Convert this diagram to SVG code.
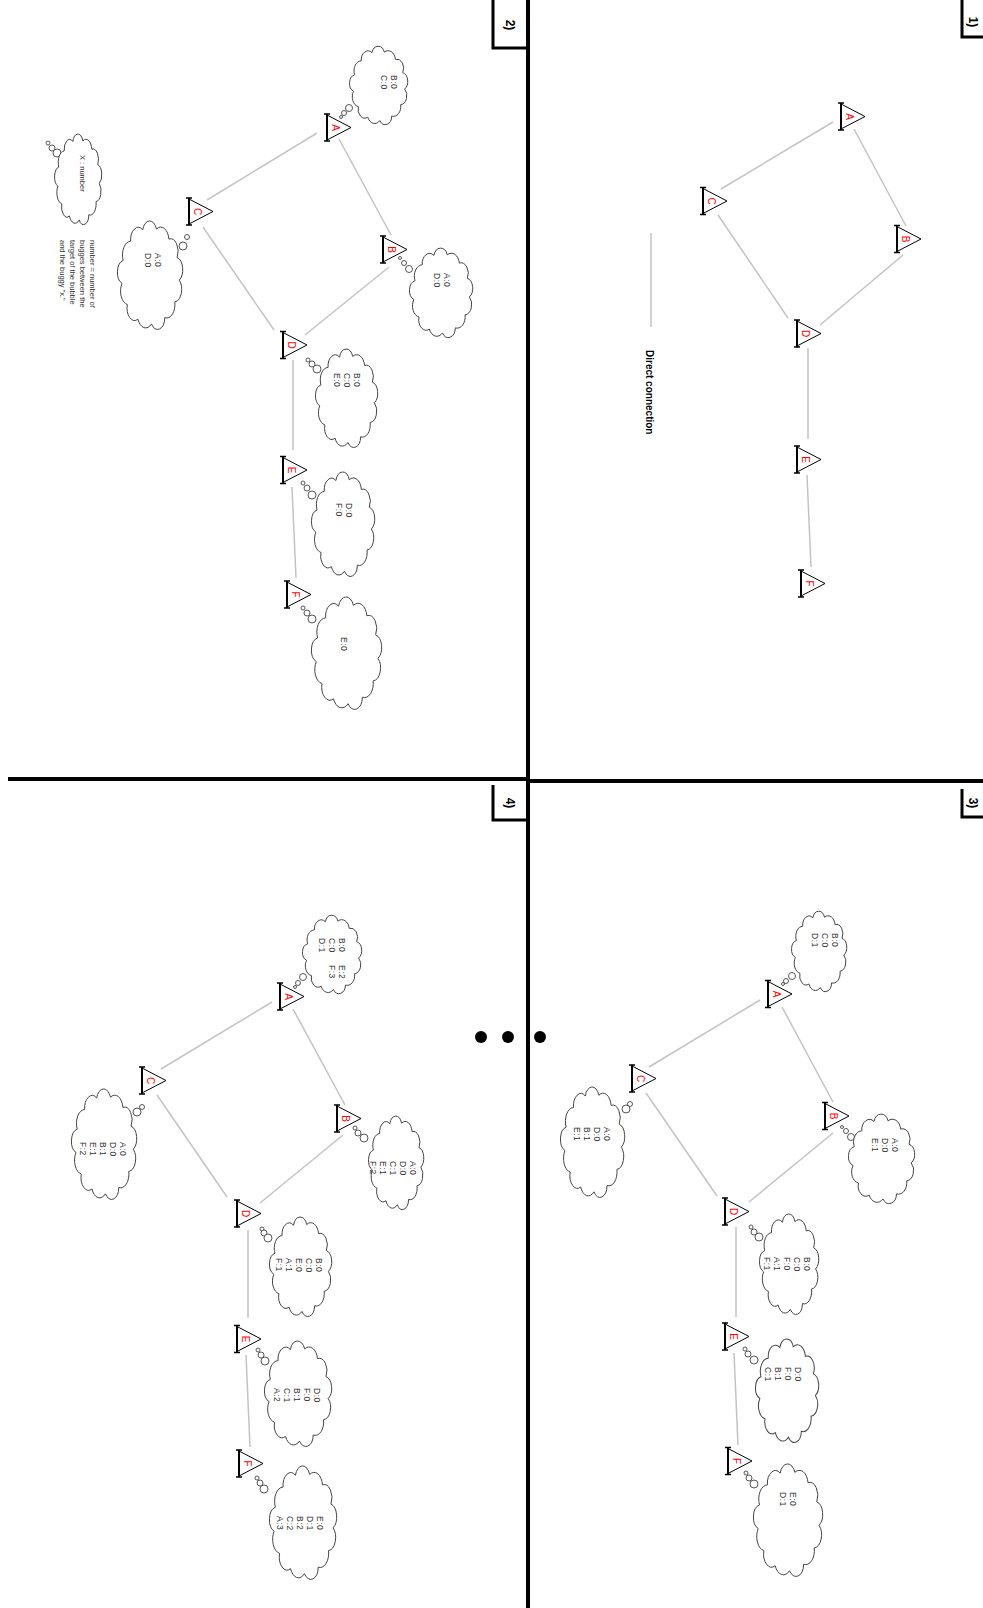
<svg xmlns="http://www.w3.org/2000/svg" xmlns:xlink="http://www.w3.org/1999/xlink" width="983" height="1608" viewBox="0 0 983 1608">
<style>
.conn{stroke:#c3c3c3;stroke-width:1.5;fill:none}
.div{stroke:#000;stroke-width:4;fill:none}
.cl{fill:#fff;stroke:#444;stroke-width:1}
.bub{fill:#fff;stroke:#444;stroke-width:0.9}
.lbl{font-family:"Liberation Sans",Arial,sans-serif;font-size:10px;fill:#ff0000;text-anchor:middle}
.ct{font-family:"Liberation Sans",Arial,sans-serif;font-size:8.5px;fill:#333;letter-spacing:0.5px}
.lg{font-family:"Liberation Sans",Arial,sans-serif;font-size:7.5px;fill:#333}
.pn{font-family:"Liberation Sans",Arial,sans-serif;font-size:12px;font-weight:bold;fill:#000;text-anchor:middle}
.dc{font-family:"Liberation Sans",Arial,sans-serif;font-size:10px;font-weight:bold;fill:#000}
</style>
<defs>
<g id="tri">
<path d="M0,-12.5 L24,0 L0,12.5" fill="#fff" stroke="#000" stroke-width="1"/>
<path d="M0,-13.5 V13.5" stroke="#000" stroke-width="2"/>
<path d="M-3,-13.5 H3 M-3,13.5 H3" stroke="#000" stroke-width="1.5"/>
</g>
<g id="cloud">
<path class="cl" vector-effect="non-scaling-stroke" transform="translate(-2.85,-2.85) scale(1.057)" d="M91.84,53.66 A11,11 0 0 1 85.35,72.68 A12,12 0 0 1 70.76,86.51 A10.5,10.5 0 0 1 51.41,91.98 A12,12 0 0 1 31.74,87.82 A11,11 0 0 1 16.26,75.01 A12,12 0 0 1 8.5,56.46 A10.5,10.5 0 0 1 10.25,36.43 A12,12 0 0 1 21.1,19.52 A11,11 0 0 1 38.58,9.58 A10.5,10.5 0 0 1 58.67,8.91 A12,12 0 0 1 76.8,17.66 A11,11 0 0 1 88.75,33.8 A11,11 0 0 1 91.84,53.66 Z"/>
</g>
</defs>
<rect width="983" height="1608" fill="#fff"/>

<g id="dividers">
<path class="div" d="M528,0 V1608"/>
<path class="div" d="M8,779 H528"/>
<path class="div" d="M528,781 H983"/>
</g>

<g id="panel-labels">
<path d="M493,0 V48 H527" fill="none" stroke="#000" stroke-width="3"/>
<text class="pn" transform="translate(506,25) rotate(90)">2)</text>
<path d="M962,0 V37 H983" fill="none" stroke="#000" stroke-width="3"/>
<text class="pn" transform="translate(969,22) rotate(90)">1)</text>
<path d="M493,785 V820 H527" fill="none" stroke="#000" stroke-width="3"/>
<text class="pn" transform="translate(506,803) rotate(90)">4)</text>
<path d="M962,789 V817 H983" fill="none" stroke="#000" stroke-width="3"/>
<text class="pn" transform="translate(969,803) rotate(90)">3)</text>
</g>

<g id="connectors">
<line class="conn" x1="833" y1="122" x2="721" y2="189"/>
<line class="conn" x1="854" y1="129" x2="906" y2="226"/>
<line class="conn" x1="718" y1="215" x2="788" y2="318"/>
<line class="conn" x1="903" y1="255" x2="820" y2="325"/>
<line class="conn" x1="808" y1="348" x2="808" y2="439"/>
<line class="conn" x1="807" y1="475" x2="811" y2="567"/>
<line class="conn" x1="651" y1="233" x2="651" y2="327"/>
<line class="conn" x1="207" y1="200" x2="317" y2="133"/>
<line class="conn" x1="339" y1="139" x2="391" y2="235"/>
<line class="conn" x1="203" y1="227" x2="274" y2="330"/>
<line class="conn" x1="389" y1="267" x2="305" y2="335"/>
<line class="conn" x1="293" y1="360" x2="293" y2="450"/>
<line class="conn" x1="292" y1="487" x2="296" y2="578"/>
<line class="conn" x1="649" y1="1067" x2="760" y2="1000"/>
<line class="conn" x1="782" y1="1007" x2="833" y2="1102"/>
<line class="conn" x1="646" y1="1093" x2="717" y2="1196"/>
<line class="conn" x1="833" y1="1133" x2="749" y2="1202"/>
<line class="conn" x1="736" y1="1227" x2="736" y2="1317"/>
<line class="conn" x1="734" y1="1353" x2="738" y2="1445"/>
<line class="conn" x1="161" y1="1069" x2="272" y2="1002"/>
<line class="conn" x1="293" y1="1009" x2="345" y2="1105"/>
<line class="conn" x1="157" y1="1095" x2="227" y2="1197"/>
<line class="conn" x1="343" y1="1135" x2="260" y2="1203"/>
<line class="conn" x1="248" y1="1230" x2="248" y2="1318"/>
<line class="conn" x1="246" y1="1355" x2="250" y2="1447"/>
</g>

<g id="legend-1">
<text class="dc" transform="translate(646,350) rotate(90)">Direct connection</text>
</g>

<g id="p1-A"><use href="#tri" transform="translate(841,116.5)"/><text class="lbl" transform="translate(845.5,116.5) rotate(90)">A</text></g>
<g id="p1-B"><use href="#tri" transform="translate(897,239)"/><text class="lbl" transform="translate(901.5,239) rotate(90)">B</text></g>
<g id="p1-C"><use href="#tri" transform="translate(703,201)"/><text class="lbl" transform="translate(707.5,201) rotate(90)">C</text></g>
<g id="p1-D"><use href="#tri" transform="translate(797,333.5)"/><text class="lbl" transform="translate(801.5,333.5) rotate(90)">D</text></g>
<g id="p1-E"><use href="#tri" transform="translate(797,459.5)"/><text class="lbl" transform="translate(801.5,459.5) rotate(90)">E</text></g>
<g id="p1-F"><use href="#tri" transform="translate(801,583.5)"/><text class="lbl" transform="translate(805.5,583.5) rotate(90)">F</text></g>

<g id="p2-A">
<use href="#tri" transform="translate(327,127.5)"/><text class="lbl" transform="translate(331.5,127.5) rotate(90)">A</text>
<circle class="bub" cx="341" cy="117" r="1.5"/><circle class="bub" cx="344" cy="113" r="2.5"/><circle class="bub" cx="349" cy="108" r="3.5"/>
<use href="#cloud" transform="translate(350,47) scale(0.58,0.78)"/>
<text class="ct" transform="translate(391,75) rotate(90)"><tspan x="0">B:0</tspan><tspan x="0" dy="10">C:0</tspan></text>
</g>
<g id="p2-B">
<use href="#tri" transform="translate(383,249.5)"/><text class="lbl" transform="translate(387.5,249.5) rotate(90)">B</text>
<circle class="bub" cx="400" cy="258" r="1.5"/><circle class="bub" cx="404" cy="263" r="2.5"/><circle class="bub" cx="409" cy="269" r="3.5"/>
<use href="#cloud" transform="translate(410,249) scale(0.63,0.89)"/>
<text class="ct" transform="translate(444,273) rotate(90)"><tspan x="0">A:0</tspan><tspan x="0" dy="10">D:0</tspan></text>
</g>
<g id="p2-C">
<use href="#tri" transform="translate(189,211.5)"/><text class="lbl" transform="translate(193.5,211.5) rotate(90)">C</text>
<circle class="bub" cx="187" cy="237" r="2.5"/><circle class="bub" cx="183" cy="246" r="4"/>
<use href="#cloud" transform="translate(118,222) scale(0.65,1.08)"/>
<text class="ct" transform="translate(155,253) rotate(90)"><tspan x="0">A:0</tspan><tspan x="0" dy="10">D:0</tspan></text>
</g>
<g id="p2-D">
<use href="#tri" transform="translate(283,345)"/><text class="lbl" transform="translate(287.5,345) rotate(90)">D</text>
<circle class="bub" cx="308" cy="360" r="2"/><circle class="bub" cx="312" cy="364" r="3"/><circle class="bub" cx="317" cy="369" r="4"/>
<use href="#cloud" transform="translate(316,350) scale(0.62,0.98)"/>
<text class="ct" transform="translate(354,373) rotate(90)"><tspan x="0">B:0</tspan><tspan x="0" dy="10">C:0</tspan><tspan x="0" dy="10">E:0</tspan></text>
</g>
<g id="p2-E">
<use href="#tri" transform="translate(283,470)"/><text class="lbl" transform="translate(287.5,470) rotate(90)">E</text>
<circle class="bub" cx="303" cy="483" r="2"/><circle class="bub" cx="307" cy="488" r="3"/><circle class="bub" cx="312" cy="495" r="4"/>
<use href="#cloud" transform="translate(312,473) scale(0.63,1.04)"/>
<text class="ct" transform="translate(346,503) rotate(90)"><tspan x="0">D:0</tspan><tspan x="0" dy="10">F:0</tspan></text>
</g>
<g id="p2-F">
<use href="#tri" transform="translate(287,594.5)"/><text class="lbl" transform="translate(291.5,594.5) rotate(90)">F</text>
<circle class="bub" cx="303" cy="608" r="2"/><circle class="bub" cx="307" cy="613" r="3"/><circle class="bub" cx="312" cy="619" r="4"/>
<use href="#cloud" transform="translate(312,598) scale(0.70,1.12)"/>
<text class="ct" transform="translate(341,637) rotate(90)"><tspan x="0">E:0</tspan></text>
</g>
<g id="p2-legend">
<circle class="bub" cx="48" cy="143" r="2"/><circle class="bub" cx="52" cy="148" r="3"/><circle class="bub" cx="57" cy="153" r="4"/>
<use href="#cloud" transform="translate(55,135) scale(0.47,0.90)"/>
<text class="lg" transform="translate(80,155) rotate(90)">X : number</text>
<text class="lg" transform="translate(90,240) rotate(90)"><tspan x="0">number = number of</tspan><tspan x="0" dy="10">bugges between the</tspan><tspan x="0" dy="10">target of the bubble</tspan><tspan x="0" dy="10">and the buggy "x."</tspan></text>
</g>

<g id="p3-A">
<use href="#tri" transform="translate(768,994)"/><text class="lbl" transform="translate(772.5,994) rotate(90)">A</text>
<circle class="bub" cx="783" cy="984" r="1.5"/><circle class="bub" cx="786" cy="981" r="2.5"/><circle class="bub" cx="792" cy="976" r="3.5"/>
<use href="#cloud" transform="translate(792,912) scale(0.55,0.80)"/>
<text class="ct" transform="translate(832,933) rotate(90)"><tspan x="0">B:0</tspan><tspan x="0" dy="10">C:0</tspan><tspan x="0" dy="10">D:1</tspan></text>
</g>
<g id="p3-B">
<use href="#tri" transform="translate(825,1116)"/><text class="lbl" transform="translate(829.5,1116) rotate(90)">B</text>
<circle class="bub" cx="842" cy="1127" r="1.5"/><circle class="bub" cx="846" cy="1131" r="2.5"/><circle class="bub" cx="851" cy="1137" r="3.5"/>
<use href="#cloud" transform="translate(849,1115) scale(0.66,0.89)"/>
<text class="ct" transform="translate(892,1138) rotate(90)"><tspan x="0">A:0</tspan><tspan x="0" dy="10">D:0</tspan><tspan x="0" dy="10">E:1</tspan></text>
</g>
<g id="p3-C">
<use href="#tri" transform="translate(632,1078.5)"/><text class="lbl" transform="translate(636.5,1078.5) rotate(90)">C</text>
<circle class="bub" cx="630" cy="1104" r="2.5"/><circle class="bub" cx="626" cy="1109" r="4"/>
<use href="#cloud" transform="translate(561,1088) scale(0.64,1.10)"/>
<text class="ct" transform="translate(604,1127) rotate(90)"><tspan x="0">A:0</tspan><tspan x="0" dy="10">D:0</tspan><tspan x="0" dy="10">B:1</tspan><tspan x="0" dy="10">E:1</tspan></text>
</g>
<g id="p3-D">
<use href="#tri" transform="translate(725,1211.5)"/><text class="lbl" transform="translate(729.5,1211.5) rotate(90)">D</text>
<circle class="bub" cx="751" cy="1227" r="2"/><circle class="bub" cx="754" cy="1232" r="3"/><circle class="bub" cx="759" cy="1237" r="4"/>
<use href="#cloud" transform="translate(760,1215) scale(0.59,1.00)"/>
<text class="ct" transform="translate(804,1257) rotate(90)"><tspan x="0">B:0</tspan><tspan x="0" dy="10">C:0</tspan><tspan x="0" dy="10">F:0</tspan><tspan x="0" dy="10">A:1</tspan><tspan x="0" dy="10">F:1</tspan></text>
</g>
<g id="p3-E">
<use href="#tri" transform="translate(725,1336.5)"/><text class="lbl" transform="translate(729.5,1336.5) rotate(90)">E</text>
<circle class="bub" cx="745" cy="1349" r="2"/><circle class="bub" cx="748" cy="1354" r="3"/><circle class="bub" cx="754" cy="1360" r="4"/>
<use href="#cloud" transform="translate(756,1340) scale(0.63,1.03)"/>
<text class="ct" transform="translate(795,1367) rotate(90)"><tspan x="0">D:0</tspan><tspan x="0" dy="10">F:0</tspan><tspan x="0" dy="10">B:1</tspan><tspan x="0" dy="10">C:1</tspan></text>
</g>
<g id="p3-F">
<use href="#tri" transform="translate(728,1461)"/><text class="lbl" transform="translate(732.5,1461) rotate(90)">F</text>
<circle class="bub" cx="746" cy="1473" r="2"/><circle class="bub" cx="749" cy="1478" r="3"/><circle class="bub" cx="754" cy="1484" r="4"/>
<use href="#cloud" transform="translate(754,1465) scale(0.69,1.12)"/>
<text class="ct" transform="translate(790,1492) rotate(90)"><tspan x="0">E:0</tspan><tspan x="0" dy="10">D:1</tspan></text>
</g>

<g id="p4-A">
<use href="#tri" transform="translate(280,996.5)"/><text class="lbl" transform="translate(284.5,996.5) rotate(90)">A</text>
<circle class="bub" cx="295" cy="987" r="1.5"/><circle class="bub" cx="298" cy="983" r="2.5"/><circle class="bub" cx="303" cy="977" r="3.5"/>
<use href="#cloud" transform="translate(303,916) scale(0.59,0.78)"/>
<text class="ct" transform="translate(339,938) rotate(90)"><tspan x="0">B:0</tspan><tspan x="27">E:2</tspan><tspan x="0" dy="10">C:0</tspan><tspan x="27">F:3</tspan><tspan x="0" dy="10">D:1</tspan></text>
</g>
<g id="p4-B">
<use href="#tri" transform="translate(337,1118.5)"/><text class="lbl" transform="translate(341.5,1118.5) rotate(90)">B</text>
<circle class="bub" cx="355" cy="1128" r="2"/><circle class="bub" cx="358" cy="1133" r="3"/><circle class="bub" cx="364" cy="1138" r="4"/>
<use href="#cloud" transform="translate(369,1117) scale(0.55,0.93)"/>
<text class="ct" transform="translate(410,1161) rotate(90)"><tspan x="0">A:0</tspan><tspan x="0" dy="10">D:0</tspan><tspan x="0" dy="10">C:1</tspan><tspan x="0" dy="10">E:1</tspan><tspan x="0" dy="10">F:2</tspan></text>
</g>
<g id="p4-C">
<use href="#tri" transform="translate(142,1080.5)"/><text class="lbl" transform="translate(146.5,1080.5) rotate(90)">C</text>
<circle class="bub" cx="142" cy="1107" r="2.5"/><circle class="bub" cx="137" cy="1112" r="4"/>
<use href="#cloud" transform="translate(72,1090) scale(0.65,1.10)"/>
<text class="ct" transform="translate(120,1142) rotate(90)"><tspan x="0">A:0</tspan><tspan x="0" dy="10">D:0</tspan><tspan x="0" dy="10">B:1</tspan><tspan x="0" dy="10">E:1</tspan><tspan x="0" dy="10">F:2</tspan></text>
</g>
<g id="p4-D">
<use href="#tri" transform="translate(237,1213.5)"/><text class="lbl" transform="translate(241.5,1213.5) rotate(90)">D</text>
<circle class="bub" cx="262" cy="1229" r="2"/><circle class="bub" cx="264" cy="1233" r="3"/><circle class="bub" cx="268" cy="1238" r="4"/>
<use href="#cloud" transform="translate(270,1218) scale(0.62,0.99)"/>
<text class="ct" transform="translate(316,1258) rotate(90)"><tspan x="0">B:0</tspan><tspan x="0" dy="10">C:0</tspan><tspan x="0" dy="10">E:0</tspan><tspan x="0" dy="10">A:1</tspan><tspan x="0" dy="10">F:1</tspan></text>
</g>
<g id="p4-E">
<use href="#tri" transform="translate(237,1339)"/><text class="lbl" transform="translate(241.5,1339) rotate(90)">E</text>
<circle class="bub" cx="258" cy="1350" r="2"/><circle class="bub" cx="261" cy="1355" r="3"/><circle class="bub" cx="265" cy="1361" r="4"/>
<use href="#cloud" transform="translate(265,1342) scale(0.67,1.05)"/>
<text class="ct" transform="translate(314,1388) rotate(90)"><tspan x="0">D:0</tspan><tspan x="0" dy="10">F:0</tspan><tspan x="0" dy="10">B:1</tspan><tspan x="0" dy="10">C:1</tspan><tspan x="0" dy="10">A:2</tspan></text>
</g>
<g id="p4-F">
<use href="#tri" transform="translate(239,1463.5)"/><text class="lbl" transform="translate(243.5,1463.5) rotate(90)">F</text>
<circle class="bub" cx="257" cy="1478" r="2"/><circle class="bub" cx="260" cy="1483" r="3"/><circle class="bub" cx="264" cy="1489" r="4"/>
<use href="#cloud" transform="translate(270,1467) scale(0.67,1.13)"/>
<text class="ct" transform="translate(317,1516) rotate(90)"><tspan x="0">E:0</tspan><tspan x="0" dy="10">D:1</tspan><tspan x="0" dy="10">B:2</tspan><tspan x="0" dy="10">C:2</tspan><tspan x="0" dy="10">A:3</tspan></text>
</g>

<g id="ellipsis">
<circle cx="481" cy="1037" r="6" fill="#000"/>
<circle cx="508" cy="1037" r="6" fill="#000"/>
<circle cx="540" cy="1037" r="6" fill="#000"/>
</g>
</svg>
